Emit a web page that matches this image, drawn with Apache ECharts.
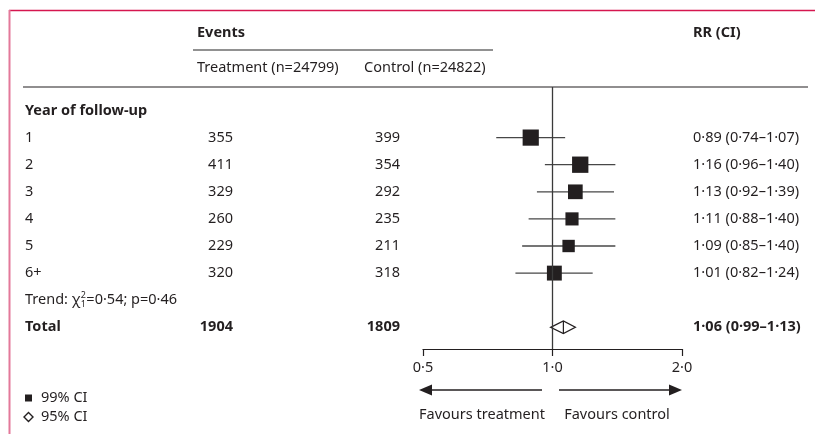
<!DOCTYPE html>
<html>
<head>
<meta charset="utf-8">
<script src="https://cdn.jsdelivr.net/npm/echarts@6/dist/echarts.min.js"></script>
<style>html,body{margin:0;padding:0;background:#fff;}#chart{width:815px;height:434px;}</style>
</head>
<body>
<div id="chart"></div>
<script>
// ---- data ----
const years = ['1', '2', '3', '4', '5', '6+'];
const treatmentEvents = [355, 411, 329, 260, 229, 320];
const controlEvents = [399, 354, 292, 235, 211, 318];
const rrValues = [0.89, 1.16, 1.13, 1.11, 1.09, 1.01];
const ciLow = [0.74, 0.96, 0.92, 0.88, 0.85, 0.82];
const ciHigh = [1.07, 1.40, 1.39, 1.40, 1.40, 1.24];
const totalTreatment = 1904;
const totalControl = 1809;
const totalRR = 1.06, totalLow = 0.99, totalHigh = 1.13;
const trendChi2 = 0.54, trendP = 0.46;
const treatmentN = 24799, controlN = 24822;
const axisTicks = [0.5, 1, 2];

// ---- layout ----
const FONT = '"Noto Sans", "Open Sans", sans-serif';
const FS = 14.5;
const INK = '#231f20';
const ROW0 = 110.5, ROWH = 27.1;
const GRID_TOP = 87, GRID_BOTTOM_Y = 349;
const yMin = (GRID_TOP - ROW0) / ROWH, yMax = (GRID_BOTTOM_Y - ROW0) / ROWH;
const fmt2 = v => v.toFixed(2).replace('.', '\u00b7');
const fmt1 = v => v.toFixed(1).replace('.', '\u00b7');

const tableRows = years.map((y, i) => ({
  row: i + 1, label: y, t: String(treatmentEvents[i]), c: String(controlEvents[i]),
  rr: fmt2(rrValues[i]) + ' (' + fmt2(ciLow[i]) + '\u2013' + fmt2(ciHigh[i]) + ')', bold: false
}));
tableRows.push({ row: 8, label: 'Total', t: String(totalTreatment), c: String(totalControl),
  rr: fmt2(totalRR) + ' (' + fmt2(totalLow) + '\u2013' + fmt2(totalHigh) + ')', bold: true });

const boxData = years.map((y, i) => [i + 1, rrValues[i], ciLow[i], ciHigh[i], treatmentEvents[i] + controlEvents[i]]);
const diamondData = [[8, totalRR, totalLow, totalHigh]];

// measure text for the trend label
const cv = document.createElement('canvas').getContext('2d');
cv.font = FS + 'px ' + FONT;
const trendPre = 'Trend: \u03c7';
const preW = cv.measureText(trendPre).width;

function txt(text, x, y, opt) {
  opt = opt || {};
  return { type: 'text', x: x, y: y, silent: true, style: {
    text: text, fill: INK, fontFamily: FONT, fontSize: opt.size || FS,
    fontWeight: opt.bold ? 'bold' : 'normal', textAlign: opt.align || 'left', textVerticalAlign: 'middle'
  }};
}
function hline(x1, x2, y, color, w) {
  return { type: 'line', silent: true, shape: { x1: x1, y1: y, x2: x2, y2: y }, style: { stroke: color, lineWidth: w } };
}
const trendY = ROW0 + 7 * ROWH;
const arrowY = 390;

const graphics = [
  // border
  hline(9, 815, 10.5, '#d5174f', 1.3),
  { type: 'line', silent: true, shape: { x1: 9.5, y1: 10, x2: 9.5, y2: 434 }, style: { stroke: '#e3799a', lineWidth: 2 } },
  // headers
  txt('Events', 197, 33, { bold: true }),
  txt('RR (CI)', 693, 33, { bold: true }),
  hline(193, 493, 50, '#6d6d6d', 1.4),
  txt('Treatment (n=' + treatmentN + ')', 197, 68),
  txt('Control (n=' + controlN + ')', 364, 68),
  hline(23, 808, 87, INK, 1.1),
  txt('Year of follow-up', 25, ROW0, { bold: true }),
  // trend
  txt(trendPre, 25, trendY),
  txt('2', 25 + preW + 0.5, trendY - 4.5, { size: 9 }),
  txt('1', 25 + preW + 0.5, trendY + 4.5, { size: 9 }),
  txt('=' + fmt2(trendChi2) + '; p=' + fmt2(trendP), 25 + preW + 6, trendY),
  // arrows
  hline(430, 542, arrowY, INK, 1.4),
  { type: 'polygon', silent: true, shape: { points: [[419, arrowY], [432, arrowY - 5.5], [432, arrowY + 5.5]] }, style: { fill: INK } },
  hline(559, 671, arrowY, INK, 1.4),
  { type: 'polygon', silent: true, shape: { points: [[682, arrowY], [669, arrowY - 5.5], [669, arrowY + 5.5]] }, style: { fill: INK } },
  txt('Favours treatment', 482, 415, { align: 'center' }),
  txt('Favours control', 617, 415, { align: 'center' }),
  // legend
  { type: 'rect', silent: true, shape: { x: 25, y: 394.5, width: 7, height: 7 }, style: { fill: INK } },
  txt('99% CI', 41, 398),
  { type: 'polygon', silent: true, shape: { points: [[28.5, 412.5], [33, 417], [28.5, 421.5], [24, 417]] }, style: { fill: '#fff', stroke: INK, lineWidth: 1.4 } },
  txt('95% CI', 41, 417)
];

const chart = echarts.init(document.getElementById('chart'), null, { renderer: 'canvas' });
chart.setOption({
  animation: false,
  backgroundColor: '#fff',
  grid: { left: 423, right: 815 - 682, top: GRID_TOP, bottom: 434 - GRID_BOTTOM_Y },
  xAxis: {
    type: 'log', logBase: 2, min: axisTicks[0], max: axisTicks[axisTicks.length - 1], interval: 1,
    splitLine: { show: false },
    axisLine: { show: true, onZero: false, lineStyle: { color: INK, width: 1.2 } },
    axisTick: { show: true, length: 7, lineStyle: { color: INK, width: 1.2 } },
    minorTick: { show: false },
    axisLabel: { color: INK, fontFamily: FONT, fontSize: FS, margin: 11, formatter: v => fmt1(v) }
  },
  yAxis: { type: 'value', inverse: true, min: yMin, max: yMax, show: false, splitLine: { show: false } },
  graphic: graphics,
  series: [
    {
      type: 'line', data: [], z: 1, silent: true,
      markLine: { silent: true, symbol: 'none', label: { show: false },
        lineStyle: { color: '#3a3a3a', width: 1.3, type: 'solid' }, data: [{ xAxis: 1 }] }
    },
    {
      type: 'custom', z: 3, silent: true, data: boxData, encode: { x: [1, 2, 3], y: 0 },
      renderItem: function (params, api) {
        const row = api.value(0), rr = api.value(1), lo = api.value(2), hi = api.value(3), n = api.value(4);
        const c = api.coord([rr, row]), pl = api.coord([lo, row]), ph = api.coord([hi, row]);
        const s = 0.59 * Math.sqrt(n);
        return { type: 'group', children: [
          { type: 'line', shape: { x1: pl[0], y1: c[1], x2: ph[0], y2: c[1] }, style: { stroke: '#474747', lineWidth: 1.3 } },
          { type: 'rect', shape: { x: c[0] - s / 2, y: c[1] - s / 2, width: s, height: s }, style: { fill: INK } }
        ]};
      }
    },
    {
      type: 'custom', z: 3, silent: true, data: diamondData, encode: { x: [1, 2, 3], y: 0 },
      renderItem: function (params, api) {
        const row = api.value(0), rr = api.value(1), lo = api.value(2), hi = api.value(3);
        const c = api.coord([rr, row]), pl = api.coord([lo, row]), ph = api.coord([hi, row]);
        const h = 6.3;
        return { type: 'group', children: [
          { type: 'polygon', shape: { points: [[pl[0], c[1]], [c[0], c[1] - h], [ph[0], c[1]], [c[0], c[1] + h]] },
            style: { fill: '#fff', stroke: INK, lineWidth: 1.3 } },
          { type: 'line', shape: { x1: c[0], y1: c[1] - h, x2: c[0], y2: c[1] + h }, style: { stroke: INK, lineWidth: 1.2 } }
        ]};
      }
    },
    {
      type: 'custom', z: 4, silent: true, clip: false,
      data: tableRows.map(r => [1, r.row]), encode: { x: 0, y: 1 },
      renderItem: function (params, api) {
        const r = tableRows[params.dataIndex];
        const y = api.coord([1, r.row])[1];
        const mk = (text, x, align) => ({ type: 'text', style: {
          text: text, x: x, y: y, fill: INK, fontFamily: FONT, fontSize: FS,
          fontWeight: r.bold ? 'bold' : 'normal', align: align, verticalAlign: 'middle' } });
        return { type: 'group', children: [
          mk(r.label, 25, 'left'), mk(r.t, 233, 'right'), mk(r.c, 400, 'right'), mk(r.rr, 693, 'left')
        ]};
      }
    }
  ]
});
</script>
</body>
</html>
